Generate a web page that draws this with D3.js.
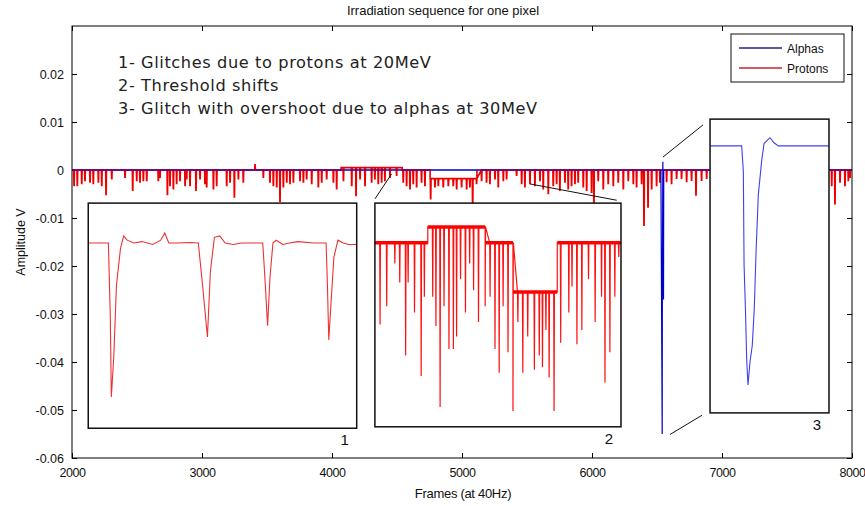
<!DOCTYPE html>
<html lang="en">
<head>
<meta charset="utf-8" />
<title>Irradiation sequence for one pixel</title>
<script src="https://d3js.org/d3.v7.min.js"></script>
<style>
  body { margin: 0; background: #fff; }
  svg { display: block; font-family: "Liberation Sans", Arial, sans-serif; }
</style>
</head>
<body>
<div id="chart"></div>
<script>
// ---- data ----
const frameTicks = [2000, 3000, 4000, 5000, 6000, 7000, 8000];
const ampTicks = [-0.06, -0.05, -0.04, -0.03, -0.02, -0.01, 0, 0.01, 0.02];
const notes = [
  "1- Glitches due to protons at 20MeV",
  "2- Threshold shifts",
  "3- Glitch with overshoot due to alphas at 30MeV"
];
const seriesNames = ["Alphas", "Protons"];

// proton baseline shifts: [from frame, to frame, level]
const protonLevels = [[4070, 4540, 0.0005], [4755, 5115, -0.0018]];
// proton glitches: [frame, amplitude]
const protonSpikes = [
  [2016,-0.0032],[2041,-0.0032],[2075,-0.0028],[2100,-0.0022],[2139,-0.0025],[2164,-0.0028],
  [2203,-0.0025],[2229,-0.0032],[2262,-0.0051],[2306,-0.0018],[2408,-0.0015],[2467,-0.0042],
  [2498,-0.0022],[2523,-0.0025],[2549,-0.0022],[2575,-0.0022],[2664,-0.0022],[2677,-0.0015],
  [2734,-0.0051],[2754,-0.0032],[2780,-0.0039],[2805,-0.0028],[2831,-0.0022],[2870,-0.0032],
  [2882,-0.0018],[2908,-0.0032],[2954,-0.0042],[2985,-0.0018],[3023,-0.0028],[3036,-0.0035],
  [3088,-0.0039],[3113,-0.0032],[3190,-0.0032],[3216,-0.0025],[3249,-0.0056],[3280,-0.0018],
  [3318,-0.0025],[3408,0.0011],[3472,-0.0015],[3523,-0.0025],[3549,-0.0032],[3575,-0.0035],
  [3600,-0.0065],[3626,-0.0035],[3652,-0.0025],[3677,-0.0028],[3703,-0.0025],[3754,-0.0022],
  [3780,-0.0025],[3805,-0.0018],[3844,-0.0028],[3895,-0.0035],[3921,-0.0025],[3959,-0.0018],
  [4011,-0.0025],[4036,-0.0039],[4088,-0.0022],[4152,-0.0032],[4185,-0.0053],[4216,-0.0018],
  [4254,-0.0032],[4305,-0.0025],[4330,-0.0018],[4356,-0.0028],[4382,-0.0025],[4407,-0.0022],
  [4446,-0.0015],[4497,-0.0011],[4548,-0.0025],[4574,-0.0032],[4600,-0.0039],[4625,-0.0028],
  [4651,-0.0035],[4689,-0.0025],[4715,-0.0032],[4759,-0.0060],[4792,-0.0035],[4818,-0.0032],
  [4856,-0.0035],[4895,-0.0032],[4933,-0.0032],[4959,-0.0039],[4997,-0.0035],[5036,-0.0039],
  [5061,-0.0035],[5082,-0.0084],[5112,-0.0028],[5151,-0.0022],[5189,-0.0025],[5215,-0.0028],
  [5254,-0.0018],[5279,-0.0035],[5318,-0.0022],[5343,-0.0018],[5420,-0.0011],[5459,-0.0028],
  [5484,-0.0035],[5523,-0.0028],[5561,-0.0032],[5600,-0.0022],[5625,-0.0039],[5664,-0.0049],
  [5702,-0.0032],[5728,-0.0028],[5753,-0.0042],[5792,-0.0025],[5817,-0.0039],[5843,-0.0032],
  [5869,-0.0028],[5894,-0.0025],[5933,-0.0035],[5959,-0.0042],[5997,-0.0046],[6015,-0.0067],
  [6048,-0.0022],[6087,-0.0039],[6125,-0.0028],[6164,-0.0032],[6202,-0.0025],[6241,-0.0039],
  [6279,-0.0022],[6318,-0.0028],[6343,-0.0035],[6382,-0.0028],[6400,-0.0115],[6431,-0.0077],
  [6459,-0.0039],[6497,-0.0032],[6523,-0.0025],[6574,-0.0024],[6612,-0.0028],[6651,-0.0017],
  [6689,-0.0017],[6728,-0.0024],[6766,-0.0021],[6800,-0.0052],[6843,-0.0021],[6882,-0.0017],
  [7844,-0.0032],[7869,-0.0070],[7908,-0.0025],[7946,-0.0032],[7972,-0.0022],[7985,-0.0015]
];
// alpha trace: flat except for one glitch
const alphaTrace = [
  [2000,0],[6530,0],[6535,-0.027],[6540,-0.055],[6541,-0.027],[6545,0.0017],
  [6550,-0.027],[6552,0],[8000,0]
];

// inset 1: zoom on proton glitches (relative frame 0-100, amplitude mV)
const inset1Trace = [
  [0,0],[7.5,0],[8.2,-2.5],[8.6,-5.4],[9.5,-4],[10.5,-1.5],[12,-0.2],[13.2,0.25],[14.5,0.1],
  [17,0],[20,0.05],[24,-0.05],[27,0.1],[28.5,0.35],[30,0],[33,0],[38,0.02],[41,0],[42.6,-1.5],
  [44.4,-3.3],[45.5,-1],[47,0.2],[49,0.25],[51,0],[54,-0.05],[57,0],[65,0],[65.8,-1.2],
  [66.8,-2.9],[67.7,-1.2],[68.8,0],[70,0.1],[72.5,-0.05],[75,0],[78,0.05],[84,0],[88.6,0],
  [89.1,-1.5],[89.6,-3.4],[90.5,-2],[91.5,-0.5],[93,0.1],[95,0],[97,-0.05],[100,-0.05]
];
// inset 2: threshold shifts [from, to, level] and glitches [x, amplitude]
const inset2Levels = [[0,21.5,0],[21.5,44.8,1],[44.8,56.1,0],[56.1,74.1,-3.1],[74.1,100,0]];
const inset2Spikes = [
  [2.1,-5.15],[4.8,-4.0],[8.1,-1.3],[10.1,-2.5],[12.5,-7.1],[13.5,-2.5],[16.1,-4.4],[18.8,-8.4],
  [20.1,-3.4],[23.5,-3.4],[24.8,-5.25],[26.5,-10.35],[28.1,-4.0],[30.1,-6.7],[31.9,-6.7],
  [33.2,-5.9],[34.8,-2.3],[36.8,-4.4],[38.5,-1.3],[40.1,-3.0],[42.1,-5.0],[44.8,-4.0],
  [46.8,-3.4],[48.8,-6.7],[50.5,-8.2],[52.1,-4.0],[54.1,-6.9],[56.1,-10.6],[58.1,-5.0],
  [60.1,-8.2],[62.1,-5.9],[64.8,-8.0],[66.8,-7.1],[68.1,-7.85],[69.5,-5.5],[70.8,-8.5],
  [72.8,-10.6],[75.5,-6.3],[78.8,-4.4],[80.1,-2.75],[82.1,-6.4],[84.1,-5.5],[86.8,-2.3],
  [89.5,-5.0],[92.1,-3.4],[93.5,-8.8],[95.5,-6.9],[97.5,-3.4],[99.1,-0.9]
];
// inset 3: alpha glitch with overshoot
const inset3Trace = [
  [0,0],[26.6,0],[28,-0.11],[28.6,-0.51],[29.8,-0.71],[30.8,-0.92],[31.9,-1.03],[33.6,-0.93],
  [35.5,-0.86],[37.2,-0.70],[38.7,-0.455],[40.6,-0.21],[43.4,-0.065],[45.4,0.01],[50.4,0.035],
  [53.8,0.013],[57.4,0],[100,0]
];

// ---- layout ----
const W = 865, H = 506;
const margin = { top: 26, right: 13, bottom: 48, left: 72 },
  width = W - margin.left - margin.right,
  height = H - margin.top - margin.bottom;

const red = "#ee0000", blue = "#0000cc";

const svg = d3.select("#chart").append("svg")
  .attr("width", W).attr("height", H);

const g = svg.append("g")
  .attr("transform", `translate(${margin.left},${margin.top})`);

const x = d3.scaleLinear().domain([2000, 8000]).range([0, width]);
const y = d3.scaleLinear().domain([-0.06, 0.03]).range([height, 0]);

// axes, MATLAB style ticks pointing inward
g.append("g")
  .attr("transform", `translate(0,${height})`)
  .call(d3.axisBottom(x).tickValues(frameTicks).tickSizeInner(-5).tickSizeOuter(0)
    .tickPadding(10).tickFormat(d3.format("d")))
  .call(a => a.select(".domain").remove())
  .call(a => a.selectAll("text").style("font-size", "12.5px").attr("fill", "#111")
    .attr("letter-spacing", "-0.4px"));

g.append("g")
  .call(d3.axisLeft(y).tickValues(ampTicks).tickSizeInner(-5).tickSizeOuter(0)
    .tickPadding(8).tickFormat(d => d === 0 ? "0" : d.toFixed(2)))
  .call(a => a.select(".domain").remove())
  .call(a => a.selectAll("text").style("font-size", "12.5px").attr("fill", "#111"));

g.append("g")
  .call(d3.axisTop(x).tickValues(frameTicks).tickSizeInner(-5).tickSizeOuter(0).tickFormat(""))
  .call(a => a.select(".domain").remove());

g.append("g")
  .attr("transform", `translate(${width},0)`)
  .call(d3.axisRight(y).tickValues(ampTicks).tickSizeInner(-5).tickSizeOuter(0).tickFormat(""))
  .call(a => a.select(".domain").remove());

// ---- main traces ----
function levelAt(levels, f, def) {
  for (const [a, b, v] of levels) if (f >= a && f <= b) return v;
  return def;
}

const protonPts = [[2000, 0], [8000, 0]];
protonLevels.forEach(([a, b, v]) => {
  protonPts.push([a, 0], [a + 0.01, v], [b - 0.01, v], [b, 0]);
});
protonSpikes.forEach(([f, v]) => {
  const base = levelAt(protonLevels, f, 0);
  protonPts.push([f - 3, base], [f - 1, v], [f + 1, v], [f + 3, base]);
});
protonPts.sort((a, b) => a[0] - b[0]);

const line = d3.line().x(d => x(d[0])).y(d => y(d[1]));

g.append("path")
  .attr("d", line([[2000, 0], [8000, 0]]))
  .attr("fill", "none").attr("stroke", blue).attr("stroke-width", 1.2);

g.append("path")
  .attr("d", line(protonPts))
  .attr("fill", "none").attr("stroke", red).attr("stroke-width", 1.6);

g.append("path")
  .attr("d", line(alphaTrace))
  .attr("fill", "none").attr("stroke", blue).attr("stroke-width", 1.2);

// ---- frame ----
g.append("rect")
  .attr("width", width).attr("height", height)
  .attr("fill", "none").attr("stroke", "#000").attr("stroke-width", 1);

// ---- connectors ----
const connectors = [
  [[4331, -0.006], [4459, -0.0008]],
  [[5523, -0.0029], [6190, -0.0063]],
  [[6546, 0.0027], [6854, 0.0094]],
  [[6600, -0.0551], [6846, -0.0511]]
];
connectors.forEach(c => {
  g.append("path").attr("d", line(c))
    .attr("stroke", "#111").attr("stroke-width", 1);
});

// ---- insets ----
const insets = [
  { id: 1, box: [2125, 4190, -0.0069, -0.0538], dom: [-6.5, 1.4] },
  { id: 2, box: [4330, 6223, -0.0069, -0.0535], dom: [-11.6, 2.5] },
  { id: 3, box: [6908, 7823, 0.0106, -0.0506], dom: [-1.15, 0.115] }
];

insets.forEach(ins => {
  const [x0, x1, y0, y1] = ins.box;
  const ix = d3.scaleLinear().domain([0, 100]).range([x(x0), x(x1)]);
  const iy = d3.scaleLinear().domain(ins.dom).range([y(y1), y(y0)]);
  const ig = g.append("g");
  ig.append("rect")
    .attr("x", x(x0)).attr("y", y(y0))
    .attr("width", x(x1) - x(x0)).attr("height", y(y1) - y(y0))
    .attr("fill", "#fff");
  svg.append("defs").append("clipPath").attr("id", "clip" + ins.id)
    .append("rect")
    .attr("x", x(x0)).attr("y", y(y0))
    .attr("width", x(x1) - x(x0)).attr("height", y(y1) - y(y0));
  const il = d3.line().x(d => ix(d[0])).y(d => iy(d[1]));
  const cg = ig.append("g").attr("clip-path", `url(#clip${ins.id})`);

  if (ins.id === 1) {
    cg.append("path").attr("d", il(inset1Trace))
      .attr("fill", "none").attr("stroke", "#ee3030").attr("stroke-width", 1.1);
  } else if (ins.id === 2) {
    const pts = [];
    inset2Levels.forEach(([a, b, v]) => pts.push([a, v], [b, v]));
    inset2Spikes.forEach(([u, v]) => {
      const base = levelAt(inset2Levels, u, 0);
      pts.push([u - 0.15, base], [u, v], [u + 0.15, base]);
    });
    pts.sort((a, b) => a[0] - b[0]);
    cg.append("path").attr("d", il(pts))
      .attr("fill", "none").attr("stroke", "#ff1010").attr("stroke-width", 1.2);
    inset2Levels.forEach(([a, b, v]) => {
      cg.append("path").attr("d", il([[a, v], [b, v]]))
        .attr("fill", "none").attr("stroke", "#ff0000").attr("stroke-width", 3.5);
    });
  } else {
    cg.append("path").attr("d", il(inset3Trace))
      .attr("fill", "none").attr("stroke", "#4040ee").attr("stroke-width", 1.1);
  }

  ig.append("rect")
    .attr("x", x(x0)).attr("y", y(y0))
    .attr("width", x(x1) - x(x0)).attr("height", y(y1) - y(y0))
    .attr("fill", "none").attr("stroke", "#111").attr("stroke-width", 1.5);

  ig.append("text")
    .attr("x", x(x1) - 12).attr("y", y(y1) + 17)
    .attr("text-anchor", "middle")
    .style("font-size", "15px").attr("fill", "#111")
    .text(ins.id);
});

// ---- notes ----
g.append("g").selectAll("text")
  .data(notes).join("text")
  .attr("x", 118 - margin.left)
  .attr("y", (d, i) => 68 - margin.top + i * 23)
  .style("font-family", "'DejaVu Sans', Verdana, sans-serif")
  .style("font-size", "16.2px")
  .attr("letter-spacing", "0.6px")
  .attr("fill", "#222")
  .text(d => d);

// ---- legend ----
const lg = g.append("g").attr("transform", `translate(${731 - margin.left},${34 - margin.top})`);
lg.append("rect").attr("width", 113).attr("height", 48)
  .attr("fill", "#fff").attr("stroke", "#111").attr("stroke-width", 1);
seriesNames.forEach((n, i) => {
  const yy = 14 + i * 20;
  lg.append("line").attr("x1", 8).attr("x2", 51).attr("y1", yy).attr("y2", yy)
    .attr("stroke", i === 0 ? "#20209a" : "#d02030").attr("stroke-width", 1.5);
  lg.append("text").attr("x", 56).attr("y", yy + 4.5)
    .style("font-size", "12px").attr("fill", "#111").text(n);
});

// ---- titles ----
svg.append("text")
  .attr("x", 443).attr("y", 15)
  .attr("text-anchor", "middle")
  .style("font-size", "13px").attr("fill", "#111")
  .text("Irradiation sequence for one pixel");

svg.append("text")
  .attr("x", 463).attr("y", 498)
  .attr("text-anchor", "middle")
  .style("font-size", "13px").attr("fill", "#111")
  .attr("letter-spacing", "-0.3px")
  .text("Frames (at 40Hz)");

svg.append("text")
  .attr("transform", `translate(25,${margin.top + height / 2}) rotate(-90)`)
  .attr("text-anchor", "middle")
  .style("font-size", "12.5px").attr("fill", "#111")
  .text("Amplitude V");
</script>
</body>
</html>
